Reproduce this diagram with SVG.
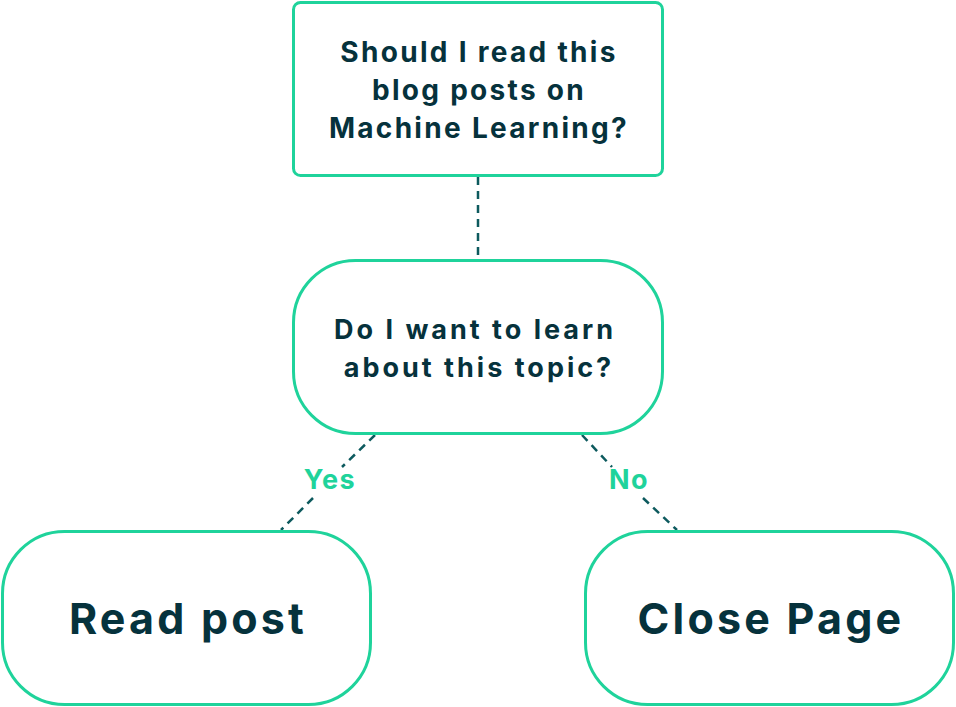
<svg xmlns="http://www.w3.org/2000/svg" width="956" height="707" viewBox="0 0 956 707">
<style>
.box{fill:#fff;stroke:#1fd39b;stroke-width:3}
.t{font-family:Inter,"Liberation Sans",sans-serif;font-weight:700;fill:#06323c;text-anchor:middle}
.s{font-size:28px;letter-spacing:2.3px}
.m{font-size:27px;letter-spacing:3px}
.b{font-size:43px;letter-spacing:3.2px}
.lab{font-family:Inter,"Liberation Sans",sans-serif;font-weight:700;fill:#1fd39b;text-anchor:middle;font-size:27px;letter-spacing:1.5px}
.c{stroke:#0d5a5e;stroke-width:2.5;stroke-dasharray:8 6;fill:none}
</style>
<rect width="956" height="707" fill="#fff"/>
<g id="connectors">
<line class="c" x1="478" y1="177" x2="478" y2="259"/>
<line class="c" x1="375" y1="435" x2="342" y2="467"/>
<line class="c" x1="313" y1="498" x2="281" y2="530"/>
<line class="c" x1="582" y1="435" x2="612" y2="467"/>
<line class="c" x1="643" y1="498" x2="677" y2="530"/>
<text class="lab" x="330" y="489">Yes</text>
<text class="lab" x="629" y="489">No</text>
</g>
<g id="q1"><rect class="box" x="293.5" y="2.5" width="369" height="173" rx="7"/>
<text class="t s" x="479" y="62">Should I read this</text>
<text class="t s" x="479" y="100">blog posts on</text>
<text class="t s" x="479" y="138">Machine Learning?</text></g>
<g id="q2"><rect class="box" x="293.5" y="260.5" width="369" height="173" rx="62"/>
<text class="t m" x="475" y="339">Do I want to learn</text>
<text class="t m" x="479" y="377">about this topic?</text></g>
<g id="read"><rect class="box" x="2.5" y="531.5" width="368" height="173" rx="62"/>
<text class="t b" x="188" y="634">Read post</text></g>
<g id="close"><rect class="box" x="585.5" y="531.5" width="368" height="173" rx="62"/>
<text class="t b" x="771" y="634">Close Page</text></g>
</svg>
